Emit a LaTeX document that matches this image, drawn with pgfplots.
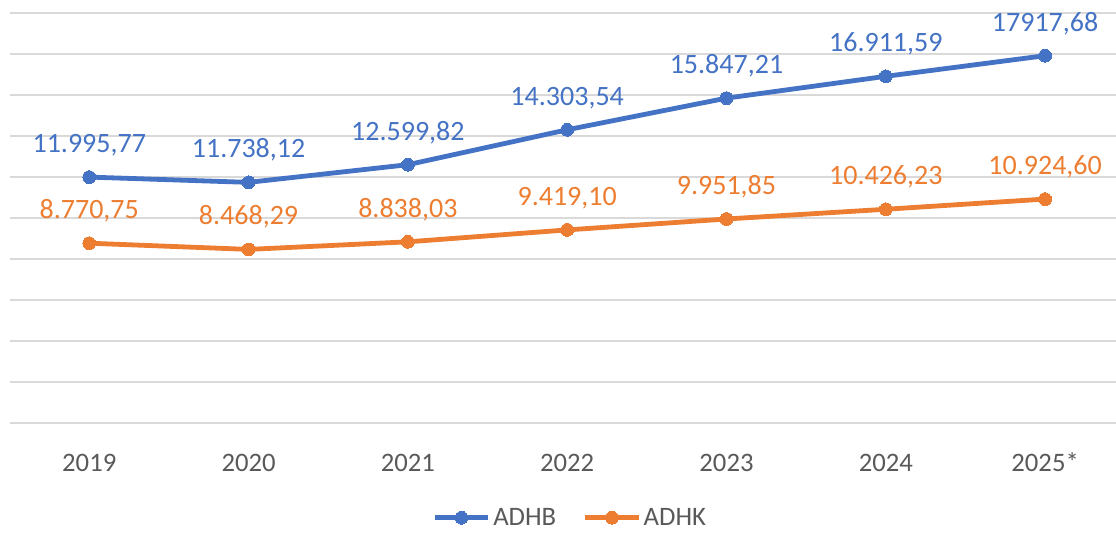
\documentclass[border=0pt]{standalone}
\usepackage{pgfplots}
\usepackage{pgfplotstable}
\pgfplotsset{compat=1.18}
\usepackage{fontspec}
\setmainfont{Carlito}
\definecolor{cblue}{HTML}{4472C4}
\definecolor{corange}{HTML}{ED7D31}
\definecolor{cgrid}{HTML}{D9D9D9}
\definecolor{ctext}{HTML}{595959}

\pgfplotstableread{
x y label
0 11995.77 11.995,77
1 11738.12 11.738,12
2 12599.82 12.599,82
3 14303.54 14.303,54
4 15847.21 15.847,21
5 16911.59 16.911,59
6 17917.68 17917,68
}\adhb

\pgfplotstableread{
x y label
0 8770.75 8.770,75
1 8468.29 8.468,29
2 8838.03 8.838,03
3 9419.10 9.419,10
4 9951.85 9.951,85
5 10426.23 10.426,23
6 10924.60 10.924,60
}\adhk

\begin{document}
\begin{tikzpicture}
\begin{axis}[
  at={(0pt,0pt)}, anchor=south west,
  scale only axis, width=829.8pt, height=307.5pt,
  xmin=-0.5, xmax=6.445, ymin=0, ymax=20000,
  axis line style={draw=none},
  major tick length=0pt,
  scaled y ticks=false,
  ytick={0,2000,...,20000}, yticklabel=\empty,
  ymajorgrids, grid style={cgrid, line width=1.3pt},
  xtick={0,...,6},
  xticklabels={2019,2020,2021,2022,2023,2024,2025*},
  xticklabel style={anchor=base, yshift=-36pt, font=\fontsize{20}{24}\selectfont, text=ctext},
  point meta=explicit symbolic,
  nodes near coords,
  nodes near coords style={anchor=base, yshift=18.5pt, font=\fontsize{21}{25}\selectfont},
  legend columns=-1,
  legend style={at={(0.507,-0.2310)}, anchor=center, draw=none, fill=none,
    font=\fontsize{20}{24}\selectfont, text=ctext,
    /tikz/every even column/.append style={column sep=18pt}},
  legend image code/.code={\draw[mark repeat=2,mark phase=2] plot coordinates {(0pt,0pt)(20pt,0pt)(40pt,0pt)};},
]
\addplot[cblue, line width=3.6pt, mark=*, mark size=4.8pt, mark options={line width=0pt},
  nodes near coords style={text=cblue}] table[x=x, y=y, meta=label] {\adhb};
\addlegendentry{ADHB}
\addplot[corange, line width=3.6pt, mark=*, mark size=4.8pt, mark options={line width=0pt},
  nodes near coords style={text=corange}] table[x=x, y=y, meta=label] {\adhk};
\addlegendentry{ADHK}
\end{axis}
\pgfresetboundingbox
\path[use as bounding box] (-7.2pt,-81.75pt) rectangle (829.8pt,317.25pt);
\end{tikzpicture}
\end{document}
